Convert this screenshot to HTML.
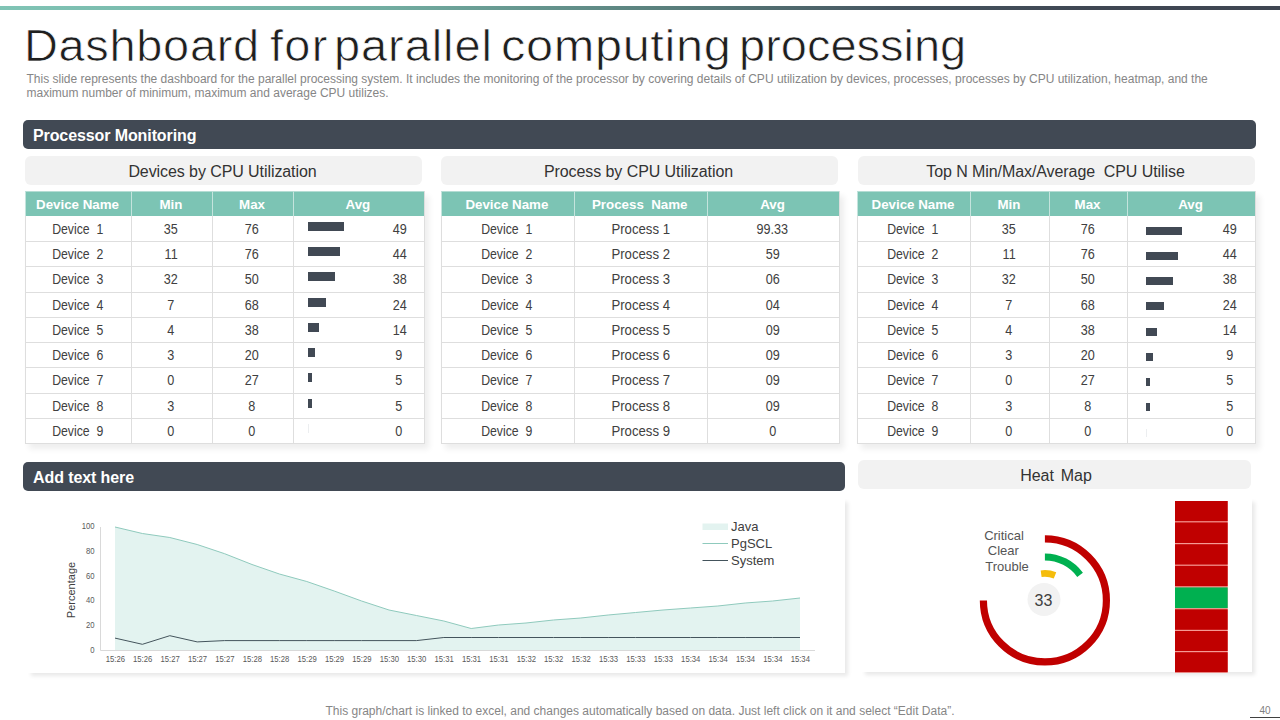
<!DOCTYPE html>
<html>
<head>
<meta charset="utf-8">
<title>Dashboard for parallel computing processing</title>
<style>
*{box-sizing:border-box;margin:0;padding:0}
html,body{width:1280px;height:720px;overflow:hidden;background:#fff}
body{position:relative;font-family:"Liberation Sans",sans-serif;color:#404040}
.abs{position:absolute}
#topbar{left:0;top:6px;width:1280px;height:4px;background:linear-gradient(90deg,#80c4b5 0%,#72ada1 30%,#5a807d 52%,#465560 70%,#3f4753 85%,#3f4652 100%)}
#title{left:0;top:20px;font-size:43.5px;line-height:52px;white-space:nowrap;color:#1f1f1f;-webkit-text-stroke:0.7px #fff}
#title span{position:absolute;top:0;transform-origin:0 0;white-space:nowrap}
#sub{left:26.5px;top:72px;font-size:12px;line-height:14px;color:#868686;white-space:nowrap}
.bar{background:#414954;border-radius:5px;color:#fff;font-weight:bold;font-size:16px;line-height:31px;letter-spacing:-0.1px;padding-left:10px;white-space:nowrap}
.pill{background:#f2f2f2;border-radius:6px;text-align:center;font-size:16px;line-height:31px;letter-spacing:-0.08px;padding-right:2px;color:#333;white-space:nowrap}
.card{background:#fff;box-shadow:4px 4px 4px -1px rgba(0,0,0,0.09)}
.tshadow{box-shadow:4px 5px 6px rgba(0,0,0,0.07);background:#fff;border-right:1px solid #dedede}
.th{background:#7cc4b4;color:#fff;font-weight:bold;font-size:13.33px;line-height:26.5px;text-align:center;white-space:nowrap;padding-right:2px;border-left:1px solid #c4e4dd;border-top:1px solid #b4ddd4}
.td{background:#fff;color:#404040;font-size:13.8px;line-height:25.25px;text-align:center;white-space:nowrap;padding-right:2px;border-left:1px solid #dedede;border-bottom:1px solid #dedede}
.td.avg{text-align:left;padding-right:0}
.nc{position:absolute;width:40px;text-align:center;display:block}
.s{display:inline-block;transform:scaleX(0.89)}
.s.p{transform:scaleX(0.955);position:relative;left:1px}
.s.n{transform:scaleX(0.915)}
.s.r{transform-origin:100% 50%}
.b{display:block;position:absolute;background:#414954}
#foot{left:0;width:1280px;top:704px;text-align:center;font-size:12px;line-height:14px;color:#868686;white-space:nowrap}
#pn{left:1250px;top:704px;width:30px;height:14px;padding-top:1px;border-bottom:1px solid #404040;font-size:10px;line-height:12px;color:#7f7f7f;text-align:center}
</style>
</head>
<body>
<div id="topbar" class="abs"></div>
<div id="title" class="abs"><span style="left:23.7px;transform:scaleX(1.08);letter-spacing:0.61px">Dashboard</span><span style="left:270.2px;transform:scaleX(1.08);letter-spacing:1.2px">for</span><span style="left:334.3px;transform:scaleX(1.08);letter-spacing:0.85px">parallel</span><span style="left:500.8px;transform:scaleX(1.12);letter-spacing:0.56px">computing</span><span style="left:739.3px;transform:scaleX(1.08);letter-spacing:0px">processing</span></div>
<div id="sub" class="abs">This slide represents the dashboard for the parallel processing system. It includes the monitoring of the processor by covering details of CPU utilization by devices, processes, processes by CPU utilization, heatmap, and the<br>maximum number of minimum, maximum and average CPU utilizes.</div>

<div class="abs bar" style="left:23px;top:120px;width:1233px;height:29px">Processor Monitoring</div>

<div class="abs pill" style="left:25px;top:156px;width:397px;height:29px">Devices by CPU Utilization</div>
<div class="abs pill" style="left:441px;top:156px;width:397px;height:29px">Process by CPU Utilization</div>
<div class="abs pill" style="left:858px;top:156px;width:397px;height:29px">Top N Min/Max/Average&nbsp; CPU Utilise</div>

<div class="abs tshadow" style="left:25px;top:191px;width:399.75px;height:253.00px"></div>
<div class="abs th" style="left:25.00px;top:191px;width:106.00px;height:25px">Device Name</div>
<div class="abs th" style="left:131.00px;top:191px;width:81.00px;height:25px">Min</div>
<div class="abs th" style="left:212.00px;top:191px;width:81.00px;height:25px">Max</div>
<div class="abs th" style="left:293.00px;top:191px;width:130.75px;height:25px">Avg</div>
<div class="abs td" style="left:25.00px;top:216.00px;width:106.00px;height:26.0px;padding-top:0.75px"><span class="s d">Device&nbsp; 1</span></div>
<div class="abs td" style="left:131.00px;top:216.00px;width:81.00px;height:26.0px;padding-top:0.75px"><span class="s n">35</span></div>
<div class="abs td" style="left:212.00px;top:216.00px;width:81.00px;height:26.0px;padding-top:0.75px"><span class="s n">76</span></div>
<div class="abs td avg" style="left:293.00px;top:216.00px;width:130.75px;height:26.0px;padding-top:0.75px;"><span class="nc" style="left:85.2px;top:0.75px"><span class="s n">49</span></span><i class="b" style="left:14px;top:5.75px;width:36.0px;height:9px"></i></div>
<div class="abs td" style="left:25.00px;top:242.00px;width:106.00px;height:25.25px;padding-top:0px"><span class="s d">Device&nbsp; 2</span></div>
<div class="abs td" style="left:131.00px;top:242.00px;width:81.00px;height:25.25px;padding-top:0px"><span class="s n">11</span></div>
<div class="abs td" style="left:212.00px;top:242.00px;width:81.00px;height:25.25px;padding-top:0px"><span class="s n">76</span></div>
<div class="abs td avg" style="left:293.00px;top:242.00px;width:130.75px;height:25.25px;padding-top:0px;"><span class="nc" style="left:85.2px;top:0px"><span class="s n">44</span></span><i class="b" style="left:14px;top:5px;width:32.0px;height:9px"></i></div>
<div class="abs td" style="left:25.00px;top:267.25px;width:106.00px;height:25.25px;padding-top:0px"><span class="s d">Device&nbsp; 3</span></div>
<div class="abs td" style="left:131.00px;top:267.25px;width:81.00px;height:25.25px;padding-top:0px"><span class="s n">32</span></div>
<div class="abs td" style="left:212.00px;top:267.25px;width:81.00px;height:25.25px;padding-top:0px"><span class="s n">50</span></div>
<div class="abs td avg" style="left:293.00px;top:267.25px;width:130.75px;height:25.25px;padding-top:0px;"><span class="nc" style="left:85.2px;top:0px"><span class="s n">38</span></span><i class="b" style="left:14px;top:5px;width:27.0px;height:9px"></i></div>
<div class="abs td" style="left:25.00px;top:292.50px;width:106.00px;height:25.25px;padding-top:0px"><span class="s d">Device&nbsp; 4</span></div>
<div class="abs td" style="left:131.00px;top:292.50px;width:81.00px;height:25.25px;padding-top:0px"><span class="s n">7</span></div>
<div class="abs td" style="left:212.00px;top:292.50px;width:81.00px;height:25.25px;padding-top:0px"><span class="s n">68</span></div>
<div class="abs td avg" style="left:293.00px;top:292.50px;width:130.75px;height:25.25px;padding-top:0px;"><span class="nc" style="left:85.2px;top:0px"><span class="s n">24</span></span><i class="b" style="left:14px;top:5px;width:18.0px;height:9px"></i></div>
<div class="abs td" style="left:25.00px;top:317.75px;width:106.00px;height:25.25px;padding-top:0px"><span class="s d">Device&nbsp; 5</span></div>
<div class="abs td" style="left:131.00px;top:317.75px;width:81.00px;height:25.25px;padding-top:0px"><span class="s n">4</span></div>
<div class="abs td" style="left:212.00px;top:317.75px;width:81.00px;height:25.25px;padding-top:0px"><span class="s n">38</span></div>
<div class="abs td avg" style="left:293.00px;top:317.75px;width:130.75px;height:25.25px;padding-top:0px;"><span class="nc" style="left:85.2px;top:0px"><span class="s n">14</span></span><i class="b" style="left:14px;top:5px;width:11.0px;height:9px"></i></div>
<div class="abs td" style="left:25.00px;top:343.00px;width:106.00px;height:25.25px;padding-top:0px"><span class="s d">Device&nbsp; 6</span></div>
<div class="abs td" style="left:131.00px;top:343.00px;width:81.00px;height:25.25px;padding-top:0px"><span class="s n">3</span></div>
<div class="abs td" style="left:212.00px;top:343.00px;width:81.00px;height:25.25px;padding-top:0px"><span class="s n">20</span></div>
<div class="abs td avg" style="left:293.00px;top:343.00px;width:130.75px;height:25.25px;padding-top:0px;"><span class="nc" style="left:85.2px;top:0px"><span class="s n">9</span></span><i class="b" style="left:14px;top:5px;width:7.0px;height:9px"></i></div>
<div class="abs td" style="left:25.00px;top:368.25px;width:106.00px;height:25.25px;padding-top:0px"><span class="s d">Device&nbsp; 7</span></div>
<div class="abs td" style="left:131.00px;top:368.25px;width:81.00px;height:25.25px;padding-top:0px"><span class="s n">0</span></div>
<div class="abs td" style="left:212.00px;top:368.25px;width:81.00px;height:25.25px;padding-top:0px"><span class="s n">27</span></div>
<div class="abs td avg" style="left:293.00px;top:368.25px;width:130.75px;height:25.25px;padding-top:0px;"><span class="nc" style="left:85.2px;top:0px"><span class="s n">5</span></span><i class="b" style="left:14px;top:5px;width:4.0px;height:9px"></i></div>
<div class="abs td" style="left:25.00px;top:393.50px;width:106.00px;height:25.25px;padding-top:0px"><span class="s d">Device&nbsp; 8</span></div>
<div class="abs td" style="left:131.00px;top:393.50px;width:81.00px;height:25.25px;padding-top:0px"><span class="s n">3</span></div>
<div class="abs td" style="left:212.00px;top:393.50px;width:81.00px;height:25.25px;padding-top:0px"><span class="s n">8</span></div>
<div class="abs td avg" style="left:293.00px;top:393.50px;width:130.75px;height:25.25px;padding-top:0px;"><span class="nc" style="left:85.2px;top:0px"><span class="s n">5</span></span><i class="b" style="left:14px;top:5px;width:4.0px;height:9px"></i></div>
<div class="abs td" style="left:25.00px;top:418.75px;width:106.00px;height:25.25px;padding-top:0px"><span class="s d">Device&nbsp; 9</span></div>
<div class="abs td" style="left:131.00px;top:418.75px;width:81.00px;height:25.25px;padding-top:0px"><span class="s n">0</span></div>
<div class="abs td" style="left:212.00px;top:418.75px;width:81.00px;height:25.25px;padding-top:0px"><span class="s n">0</span></div>
<div class="abs td avg" style="left:293.00px;top:418.75px;width:130.75px;height:25.25px;padding-top:0px;"><span class="nc" style="left:85.2px;top:0px"><span class="s n">0</span></span><i class="b" style="left:14px;top:5px;width:1px;height:9px;background:#eceef0"></i></div>
<div class="abs tshadow" style="left:441px;top:191px;width:399.25px;height:253.00px"></div>
<div class="abs th" style="left:441.00px;top:191px;width:132.75px;height:25px">Device Name</div>
<div class="abs th" style="left:573.75px;top:191px;width:133.00px;height:25px">Process&nbsp; Name</div>
<div class="abs th" style="left:706.75px;top:191px;width:132.50px;height:25px">Avg</div>
<div class="abs td" style="left:441.00px;top:216.00px;width:132.75px;height:26.0px;padding-top:0.75px"><span class="s d">Device&nbsp; 1</span></div>
<div class="abs td" style="left:573.75px;top:216.00px;width:133.00px;height:26.0px;padding-top:0.75px"><span class="s p">Process 1</span></div>
<div class="abs td" style="left:706.75px;top:216.00px;width:132.50px;height:26.0px;padding-top:0.75px"><span class="s n">99.33</span></div>
<div class="abs td" style="left:441.00px;top:242.00px;width:132.75px;height:25.25px;padding-top:0px"><span class="s d">Device&nbsp; 2</span></div>
<div class="abs td" style="left:573.75px;top:242.00px;width:133.00px;height:25.25px;padding-top:0px"><span class="s p">Process 2</span></div>
<div class="abs td" style="left:706.75px;top:242.00px;width:132.50px;height:25.25px;padding-top:0px"><span class="s n">59</span></div>
<div class="abs td" style="left:441.00px;top:267.25px;width:132.75px;height:25.25px;padding-top:0px"><span class="s d">Device&nbsp; 3</span></div>
<div class="abs td" style="left:573.75px;top:267.25px;width:133.00px;height:25.25px;padding-top:0px"><span class="s p">Process 3</span></div>
<div class="abs td" style="left:706.75px;top:267.25px;width:132.50px;height:25.25px;padding-top:0px"><span class="s n">06</span></div>
<div class="abs td" style="left:441.00px;top:292.50px;width:132.75px;height:25.25px;padding-top:0px"><span class="s d">Device&nbsp; 4</span></div>
<div class="abs td" style="left:573.75px;top:292.50px;width:133.00px;height:25.25px;padding-top:0px"><span class="s p">Process 4</span></div>
<div class="abs td" style="left:706.75px;top:292.50px;width:132.50px;height:25.25px;padding-top:0px"><span class="s n">04</span></div>
<div class="abs td" style="left:441.00px;top:317.75px;width:132.75px;height:25.25px;padding-top:0px"><span class="s d">Device&nbsp; 5</span></div>
<div class="abs td" style="left:573.75px;top:317.75px;width:133.00px;height:25.25px;padding-top:0px"><span class="s p">Process 5</span></div>
<div class="abs td" style="left:706.75px;top:317.75px;width:132.50px;height:25.25px;padding-top:0px"><span class="s n">09</span></div>
<div class="abs td" style="left:441.00px;top:343.00px;width:132.75px;height:25.25px;padding-top:0px"><span class="s d">Device&nbsp; 6</span></div>
<div class="abs td" style="left:573.75px;top:343.00px;width:133.00px;height:25.25px;padding-top:0px"><span class="s p">Process 6</span></div>
<div class="abs td" style="left:706.75px;top:343.00px;width:132.50px;height:25.25px;padding-top:0px"><span class="s n">09</span></div>
<div class="abs td" style="left:441.00px;top:368.25px;width:132.75px;height:25.25px;padding-top:0px"><span class="s d">Device&nbsp; 7</span></div>
<div class="abs td" style="left:573.75px;top:368.25px;width:133.00px;height:25.25px;padding-top:0px"><span class="s p">Process 7</span></div>
<div class="abs td" style="left:706.75px;top:368.25px;width:132.50px;height:25.25px;padding-top:0px"><span class="s n">09</span></div>
<div class="abs td" style="left:441.00px;top:393.50px;width:132.75px;height:25.25px;padding-top:0px"><span class="s d">Device&nbsp; 8</span></div>
<div class="abs td" style="left:573.75px;top:393.50px;width:133.00px;height:25.25px;padding-top:0px"><span class="s p">Process 8</span></div>
<div class="abs td" style="left:706.75px;top:393.50px;width:132.50px;height:25.25px;padding-top:0px"><span class="s n">09</span></div>
<div class="abs td" style="left:441.00px;top:418.75px;width:132.75px;height:25.25px;padding-top:0px"><span class="s d">Device&nbsp; 9</span></div>
<div class="abs td" style="left:573.75px;top:418.75px;width:133.00px;height:25.25px;padding-top:0px"><span class="s p">Process 9</span></div>
<div class="abs td" style="left:706.75px;top:418.75px;width:132.50px;height:25.25px;padding-top:0px"><span class="s n">0</span></div>
<div class="abs tshadow" style="left:857px;top:191px;width:399.00px;height:253.00px"></div>
<div class="abs th" style="left:857.00px;top:191px;width:113.00px;height:25px">Device Name</div>
<div class="abs th" style="left:970.00px;top:191px;width:79.00px;height:25px">Min</div>
<div class="abs th" style="left:1049.00px;top:191px;width:78.00px;height:25px">Max</div>
<div class="abs th" style="left:1127.00px;top:191px;width:128.00px;height:25px">Avg</div>
<div class="abs td" style="left:857.00px;top:216.00px;width:113.00px;height:26.0px;padding-top:0.75px"><span class="s d">Device&nbsp; 1</span></div>
<div class="abs td" style="left:970.00px;top:216.00px;width:79.00px;height:26.0px;padding-top:0.75px"><span class="s n">35</span></div>
<div class="abs td" style="left:1049.00px;top:216.00px;width:78.00px;height:26.0px;padding-top:0.75px"><span class="s n">76</span></div>
<div class="abs td avg" style="left:1127.00px;top:216.00px;width:128.00px;height:26.0px;padding-top:0.75px;"><span class="nc" style="left:82px;top:0.75px"><span class="s n">49</span></span><i class="b" style="left:18px;top:10.5px;width:36.0px;height:8px"></i></div>
<div class="abs td" style="left:857.00px;top:242.00px;width:113.00px;height:25.25px;padding-top:0px"><span class="s d">Device&nbsp; 2</span></div>
<div class="abs td" style="left:970.00px;top:242.00px;width:79.00px;height:25.25px;padding-top:0px"><span class="s n">11</span></div>
<div class="abs td" style="left:1049.00px;top:242.00px;width:78.00px;height:25.25px;padding-top:0px"><span class="s n">76</span></div>
<div class="abs td avg" style="left:1127.00px;top:242.00px;width:128.00px;height:25.25px;padding-top:0px;"><span class="nc" style="left:82px;top:0px"><span class="s n">44</span></span><i class="b" style="left:18px;top:9.75px;width:32.0px;height:8px"></i></div>
<div class="abs td" style="left:857.00px;top:267.25px;width:113.00px;height:25.25px;padding-top:0px"><span class="s d">Device&nbsp; 3</span></div>
<div class="abs td" style="left:970.00px;top:267.25px;width:79.00px;height:25.25px;padding-top:0px"><span class="s n">32</span></div>
<div class="abs td" style="left:1049.00px;top:267.25px;width:78.00px;height:25.25px;padding-top:0px"><span class="s n">50</span></div>
<div class="abs td avg" style="left:1127.00px;top:267.25px;width:128.00px;height:25.25px;padding-top:0px;"><span class="nc" style="left:82px;top:0px"><span class="s n">38</span></span><i class="b" style="left:18px;top:9.75px;width:27.0px;height:8px"></i></div>
<div class="abs td" style="left:857.00px;top:292.50px;width:113.00px;height:25.25px;padding-top:0px"><span class="s d">Device&nbsp; 4</span></div>
<div class="abs td" style="left:970.00px;top:292.50px;width:79.00px;height:25.25px;padding-top:0px"><span class="s n">7</span></div>
<div class="abs td" style="left:1049.00px;top:292.50px;width:78.00px;height:25.25px;padding-top:0px"><span class="s n">68</span></div>
<div class="abs td avg" style="left:1127.00px;top:292.50px;width:128.00px;height:25.25px;padding-top:0px;"><span class="nc" style="left:82px;top:0px"><span class="s n">24</span></span><i class="b" style="left:18px;top:9.75px;width:18.0px;height:8px"></i></div>
<div class="abs td" style="left:857.00px;top:317.75px;width:113.00px;height:25.25px;padding-top:0px"><span class="s d">Device&nbsp; 5</span></div>
<div class="abs td" style="left:970.00px;top:317.75px;width:79.00px;height:25.25px;padding-top:0px"><span class="s n">4</span></div>
<div class="abs td" style="left:1049.00px;top:317.75px;width:78.00px;height:25.25px;padding-top:0px"><span class="s n">38</span></div>
<div class="abs td avg" style="left:1127.00px;top:317.75px;width:128.00px;height:25.25px;padding-top:0px;"><span class="nc" style="left:82px;top:0px"><span class="s n">14</span></span><i class="b" style="left:18px;top:9.75px;width:11.0px;height:8px"></i></div>
<div class="abs td" style="left:857.00px;top:343.00px;width:113.00px;height:25.25px;padding-top:0px"><span class="s d">Device&nbsp; 6</span></div>
<div class="abs td" style="left:970.00px;top:343.00px;width:79.00px;height:25.25px;padding-top:0px"><span class="s n">3</span></div>
<div class="abs td" style="left:1049.00px;top:343.00px;width:78.00px;height:25.25px;padding-top:0px"><span class="s n">20</span></div>
<div class="abs td avg" style="left:1127.00px;top:343.00px;width:128.00px;height:25.25px;padding-top:0px;"><span class="nc" style="left:82px;top:0px"><span class="s n">9</span></span><i class="b" style="left:18px;top:9.75px;width:7.0px;height:8px"></i></div>
<div class="abs td" style="left:857.00px;top:368.25px;width:113.00px;height:25.25px;padding-top:0px"><span class="s d">Device&nbsp; 7</span></div>
<div class="abs td" style="left:970.00px;top:368.25px;width:79.00px;height:25.25px;padding-top:0px"><span class="s n">0</span></div>
<div class="abs td" style="left:1049.00px;top:368.25px;width:78.00px;height:25.25px;padding-top:0px"><span class="s n">27</span></div>
<div class="abs td avg" style="left:1127.00px;top:368.25px;width:128.00px;height:25.25px;padding-top:0px;"><span class="nc" style="left:82px;top:0px"><span class="s n">5</span></span><i class="b" style="left:18px;top:9.75px;width:4.0px;height:8px"></i></div>
<div class="abs td" style="left:857.00px;top:393.50px;width:113.00px;height:25.25px;padding-top:0px"><span class="s d">Device&nbsp; 8</span></div>
<div class="abs td" style="left:970.00px;top:393.50px;width:79.00px;height:25.25px;padding-top:0px"><span class="s n">3</span></div>
<div class="abs td" style="left:1049.00px;top:393.50px;width:78.00px;height:25.25px;padding-top:0px"><span class="s n">8</span></div>
<div class="abs td avg" style="left:1127.00px;top:393.50px;width:128.00px;height:25.25px;padding-top:0px;"><span class="nc" style="left:82px;top:0px"><span class="s n">5</span></span><i class="b" style="left:18px;top:9.75px;width:4.0px;height:8px"></i></div>
<div class="abs td" style="left:857.00px;top:418.75px;width:113.00px;height:25.25px;padding-top:0px"><span class="s d">Device&nbsp; 9</span></div>
<div class="abs td" style="left:970.00px;top:418.75px;width:79.00px;height:25.25px;padding-top:0px"><span class="s n">0</span></div>
<div class="abs td" style="left:1049.00px;top:418.75px;width:78.00px;height:25.25px;padding-top:0px"><span class="s n">0</span></div>
<div class="abs td avg" style="left:1127.00px;top:418.75px;width:128.00px;height:25.25px;padding-top:0px;"><span class="nc" style="left:82px;top:0px"><span class="s n">0</span></span><i class="b" style="left:18px;top:9.75px;width:1px;height:8px;background:#eceef0"></i></div>

<div class="abs bar" style="left:23px;top:462px;width:822px;height:29px">Add text here</div>
<div class="abs pill" style="left:858px;top:460px;width:393px;height:29px;word-spacing:2.7px;padding-left:5px">Heat Map</div>

<div class="abs card" style="left:26px;top:497px;width:819px;height:176px"></div>
<div class="abs card" style="left:860px;top:497px;width:392px;height:175px"></div>

<svg class="abs" style="left:0;top:0" width="1280" height="720" viewBox="0 0 1280 720">
<polygon points="115.0,650.5 115.0,527.0 142.4,533.5 169.8,537.5 197.2,544.5 224.6,553.7 252.0,564.5 279.4,574.0 306.8,581.5 334.2,591.0 361.6,601.0 389.0,610.0 416.4,615.5 443.8,621.0 471.2,628.5 498.6,625.0 526.0,623.0 553.4,620.0 580.8,618.0 608.2,615.0 635.6,612.5 663.0,610.0 690.4,608.0 717.8,606.0 745.2,603.0 772.6,601.0 800.0,598.0 800.0,650.5" fill="#e3f3f0"/>
<polyline points="115.0,527.0 142.4,533.5 169.8,537.5 197.2,544.5 224.6,553.7 252.0,564.5 279.4,574.0 306.8,581.5 334.2,591.0 361.6,601.0 389.0,610.0 416.4,615.5 443.8,621.0 471.2,628.5 498.6,625.0 526.0,623.0 553.4,620.0 580.8,618.0 608.2,615.0 635.6,612.5 663.0,610.0 690.4,608.0 717.8,606.0 745.2,603.0 772.6,601.0 800.0,598.0" fill="none" stroke="#8fcabd" stroke-width="1"/>
<polyline points="115.0,638.1 142.4,644.3 169.8,635.7 197.2,641.9 224.6,640.6 252.0,640.6 279.4,640.6 306.8,640.6 334.2,640.6 361.6,640.6 389.0,640.6 416.4,640.6 443.8,637.5 471.2,637.5 498.6,637.5 526.0,637.5 553.4,637.5 580.8,637.5 608.2,637.5 635.6,637.5 663.0,637.5 690.4,637.5 717.8,637.5 745.2,637.5 772.6,637.5 800.0,637.5" fill="none" stroke="#44545c" stroke-width="1"/>
<line x1="100.5" y1="527" x2="100.5" y2="650.5" stroke="#d9d9d9" stroke-width="1"/>
<line x1="100.5" y1="650.5" x2="815" y2="650.5" stroke="#d9d9d9" stroke-width="1"/>
<g font-family="Liberation Sans, sans-serif" font-size="8.7" fill="#595959" transform="scale(0.885,1)"><text x="130.3" y="662.2" text-anchor="middle">15:26</text><text x="161.2" y="662.2" text-anchor="middle">15:26</text><text x="192.2" y="662.2" text-anchor="middle">15:27</text><text x="223.2" y="662.2" text-anchor="middle">15:27</text><text x="254.1" y="662.2" text-anchor="middle">15:27</text><text x="285.1" y="662.2" text-anchor="middle">15:28</text><text x="316.0" y="662.2" text-anchor="middle">15:28</text><text x="347.0" y="662.2" text-anchor="middle">15:29</text><text x="378.0" y="662.2" text-anchor="middle">15:29</text><text x="408.9" y="662.2" text-anchor="middle">15:29</text><text x="439.9" y="662.2" text-anchor="middle">15:30</text><text x="470.8" y="662.2" text-anchor="middle">15:30</text><text x="501.8" y="662.2" text-anchor="middle">15:31</text><text x="532.8" y="662.2" text-anchor="middle">15:31</text><text x="563.7" y="662.2" text-anchor="middle">15:31</text><text x="594.7" y="662.2" text-anchor="middle">15:32</text><text x="625.6" y="662.2" text-anchor="middle">15:32</text><text x="656.6" y="662.2" text-anchor="middle">15:32</text><text x="687.6" y="662.2" text-anchor="middle">15:33</text><text x="718.5" y="662.2" text-anchor="middle">15:33</text><text x="749.5" y="662.2" text-anchor="middle">15:33</text><text x="780.5" y="662.2" text-anchor="middle">15:34</text><text x="811.4" y="662.2" text-anchor="middle">15:34</text><text x="842.4" y="662.2" text-anchor="middle">15:34</text><text x="873.3" y="662.2" text-anchor="middle">15:34</text><text x="904.3" y="662.2" text-anchor="middle">15:34</text><text x="106.8" y="652.7" text-anchor="end">0</text><text x="106.8" y="628.0" text-anchor="end">20</text><text x="106.8" y="603.3" text-anchor="end">40</text><text x="106.8" y="578.6" text-anchor="end">60</text><text x="106.8" y="553.9" text-anchor="end">80</text><text x="106.8" y="529.2" text-anchor="end">100</text></g>
<text transform="translate(75,590) rotate(-90)" text-anchor="middle" font-family="Liberation Sans, sans-serif" font-size="11" fill="#404040">Percentage</text>
<rect x="702.5" y="523.5" width="25.5" height="6.5" fill="#e3f3f0"/>
<line x1="702.5" y1="543.5" x2="728" y2="543.5" stroke="#8fcabd" stroke-width="1"/>
<line x1="702.5" y1="560.5" x2="728" y2="560.5" stroke="#44545c" stroke-width="1"/>
<g font-family="Liberation Sans, sans-serif" font-size="13" fill="#404040"><text x="731" y="531">Java</text><text x="731" y="548">PgSCL</text><text x="731" y="565">System</text></g>
</svg>
<svg class="abs" style="left:0;top:0" width="1280" height="720" viewBox="0 0 1280 720">
<path d="M1044.90,538.90 A61.5,61.5 0 1 1 983.40,600.40" fill="none" stroke="#c00000" stroke-width="7.2"/>
<path d="M1044.90,556.90 A43.5,43.5 0 0 1 1080.09,574.83" fill="none" stroke="#00b050" stroke-width="7"/>
<path d="M1041.14,573.66 A27,27 0 0 1 1055.01,575.37" fill="none" stroke="#f5bd0c" stroke-width="6.6"/>
<circle cx="1044" cy="599.5" r="16.5" fill="#f2f2f2"/>
<text x="1043.5" y="606" text-anchor="middle" font-family="Liberation Sans, sans-serif" font-size="16" fill="#404040">33</text>
<g font-family="Liberation Sans, sans-serif" font-size="13" fill="#555" text-anchor="middle"><text x="1004" y="540">Critical</text><text x="1003.3" y="555">Clear</text><text x="1007" y="571">Trouble</text></g>
<rect x="1175" y="501" width="52.7" height="171.8" fill="#f59a94"/>
<rect x="1175" y="501.0" width="52.7" height="20.2" fill="#c00000"/><rect x="1175" y="522.4" width="52.7" height="20.6" fill="#c00000"/><rect x="1175" y="544.2" width="52.7" height="20.4" fill="#c00000"/><rect x="1175" y="565.8" width="52.7" height="20.4" fill="#c00000"/><rect x="1175" y="587.4" width="52.7" height="20.7" fill="#00b050"/><rect x="1175" y="609.3" width="52.7" height="20.5" fill="#c00000"/><rect x="1175" y="631.0" width="52.7" height="20.0" fill="#c00000"/><rect x="1175" y="652.2" width="52.7" height="20.0" fill="#c00000"/>
</svg>

<div id="foot" class="abs">This graph/chart is linked to excel, and changes automatically based on data. Just left click on it and select “Edit Data”.</div>
<div id="pn" class="abs">40</div>
</body>
</html>
